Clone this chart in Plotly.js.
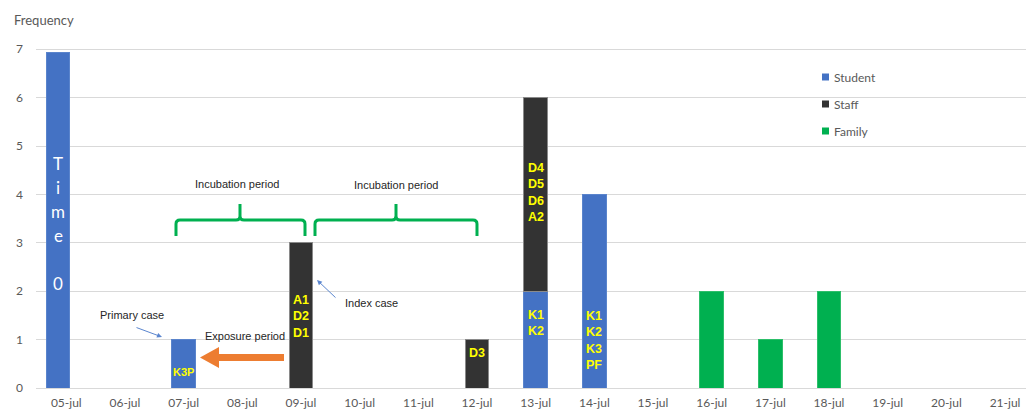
<!DOCTYPE html>
<html>
<head>
<meta charset="utf-8">
<script src="https://cdn.plot.ly/plotly-3.0.1.min.js"></script>
<style>html,body{margin:0;padding:0;background:#fff}#chart{width:1026px;height:411px}</style>
</head>
<body>
<div id="chart"></div>
<script>
// ---- data ----
const dates = ['05-jul','06-jul','07-jul','08-jul','09-jul','10-jul','11-jul','12-jul','13-jul','14-jul','15-jul','16-jul','17-jul','18-jul','19-jul','20-jul','21-jul'];
const student = [6.94,null,1,null,null,null,null,null,2,4,null,null,null,null,null,null,null];
const staff   = [null,null,null,null,3,null,null,1,4,null,null,null,null,null,null,null,null];
const family  = [null,null,null,null,null,null,null,null,null,null,null,2,1,2,null,null,null];
const seriesNames = ['Student','Staff','Family'];
const seriesColors = ['#4472C4','#333333','#00B050'];
const yTicks = [0,1,2,3,4,5,6,7];

// case labels: [category, y centre, text, font size]
const caseLabels = [
  ['07-jul', 0.33, 'K3P', 11],
  ['09-jul', 1.47, 'A1<br>D2<br>D1', 12.5],
  ['12-jul', 0.72, 'D3', 12.5],
  ['13-jul', 4.05, 'D4<br>D5<br>D6<br>A2', 12.5],
  ['13-jul', 1.34, 'K1<br>K2', 12.5],
  ['14-jul', 0.99, 'K1<br>K2<br>K3<br>PF', 12.5]
];
const timeLetters = ['T','i','m','e','','0'];

// ---- layout helpers (pixel -> paper) ----
const L = 36, W = 990, B = 388, H = 343;
const PX = p => (p - L) / W;
const PY = p => (B - p) / H;
const UNIT = 58.67; // pixels per category

const BW = 0.4;
const mkBar = (y, i, line, offset) => {
  const t = {
    type: 'bar', x: dates, y: y, name: seriesNames[i], showlegend: false,
    width: BW,
    marker: {color: seriesColors[i], line: {color: line, width: 1}}
  };
  if (offset) t.offset = offset;
  return t;
};
// the first (Time 0) bar sits a little left of its slot in the original picture
const studentOffset = dates.map((d, k) => k === 0 ? -BW / 2 - 8.3 / UNIT : -BW / 2);

const traces = [
  mkBar(student, 0, '#5a84cc', studentOffset),
  mkBar(staff, 1, '#8a8a8a'),
  mkBar(family, 2, '#2dbf6a')
];

const annotations = [];
const shapes = [];
annotations.push({xref:'paper', yref:'paper', x: PX(12), y: PY(20), xanchor:'left', yanchor:'middle',
  text:'Frequency', showarrow:false, font:{family:'Lato, "Open Sans", sans-serif', size:13, color:'#595959'}});

// manual legend
seriesNames.forEach((n, i) => {
  const cy = 77 + 27 * i;
  shapes.push({type:'rect', xref:'paper', yref:'paper', x0: PX(822), x1: PX(829), y0: PY(cy + 3.5), y1: PY(cy - 3.5),
    fillcolor: seriesColors[i], line:{width:0}});
  annotations.push({xref:'paper', yref:'paper', x: PX(832), y: PY(cy), xanchor:'left', yanchor:'middle',
    text: n, showarrow:false, font:{family:'Lato, "Open Sans", sans-serif', size:12, color:'#595959'}});
});

caseLabels.forEach(c => annotations.push({
  x: c[0], y: c[1], xref:'x', yref:'y', text: '<b>' + c[2] + '</b>', showarrow:false,
  xanchor:'center', yanchor:'middle',
  font:{family:'"Liberation Sans", Arial, sans-serif', size:c[3], color:'#FFFF00'}
}));

timeLetters.forEach((t, i) => { if (t) annotations.push({
  xref:'paper', yref:'paper', x: PX(58), y: PY(163 + 24*i), text: t, showarrow:false,
  xanchor:'center', yanchor:'middle',
  font:{family:'Lato, "Open Sans", sans-serif', size:17, color:'#FFFFFF'}
}); });

const note = (text, px, py) => ({xref:'paper', yref:'paper', x: PX(px), y: PY(py), text: text,
  showarrow:false, xanchor:'center', yanchor:'middle',
  font:{family:'"Liberation Sans", Arial, sans-serif', size:11, color:'#262626'}});
annotations.push(note('Incubation period', 237, 184));
annotations.push(note('Incubation period', 396, 185));
annotations.push(note('Primary case', 132, 315));
annotations.push(note('Exposure period', 245, 336));
annotations.push(note('Index case', 371, 303));

const thinArrow = (hx, hy, ax, ay) => ({xref:'paper', yref:'paper', x: PX(hx), y: PY(hy), ax: ax, ay: ay,
  text:'', showarrow:true, arrowhead:2, arrowsize:1, arrowwidth:1, arrowcolor:'#5b86cf'});
annotations.push(thinArrow(162, 337, -27, -10));
annotations.push(thinArrow(317, 280, 20, 19));

// braces
const P = (x, y) => PX(x).toFixed(5) + ',' + PY(y).toFixed(5);
const brace = (x0, x1, xm, yh, yend, ytip) => {
  const r = 4;
  return 'M' + P(x0, yend) + ' L' + P(x0, yh + r) + ' Q' + P(x0, yh) + ' ' + P(x0 + r, yh) +
    ' L' + P(xm - r, yh) + ' Q' + P(xm, yh) + ' ' + P(xm, yh - r) + ' L' + P(xm, ytip) +
    ' M' + P(xm, yh - r) + ' Q' + P(xm, yh) + ' ' + P(xm + r, yh) +
    ' L' + P(x1 - r, yh) + ' Q' + P(x1, yh) + ' ' + P(x1, yh + r) + ' L' + P(x1, yend);
};
shapes.push({type:'path', xref:'paper', yref:'paper', path: brace(176, 305, 240, 220, 236, 204), line:{color:'#00B050', width:3}});
shapes.push({type:'path', xref:'paper', yref:'paper', path: brace(315, 477, 396, 220, 236, 204), line:{color:'#00B050', width:3}});
shapes.push({type:'path', xref:'paper', yref:'paper', fillcolor:'#ED7D31', line:{width:0},
  path: 'M' + P(200, 357.5) + ' L' + P(219, 347) + ' L' + P(219, 354) + ' L' + P(284, 354) +
    ' L' + P(284, 361) + ' L' + P(219, 361) + ' L' + P(219, 368) + ' Z'});

const x0 = -(66.3 - L) / UNIT;
const layout = {
  width: 1026, height: 411,
  margin: {l: L, r: 0, t: 45, b: 23},
  paper_bgcolor: '#ffffff', plot_bgcolor: '#ffffff',
  barmode: 'stack',
  showlegend: false,
  xaxis: {type:'category', range:[x0, x0 + W / UNIT], showgrid:false, zeroline:false, showline:false,
    ticks:'', ticklabelstandoff: 6,
    tickfont:{family:'"Liberation Sans Narrow", Lato, sans-serif', size:12, color:'#595959'}},
  yaxis: {range:[0, 7.088], tickvals: yTicks, showgrid:true, gridcolor:'#d9d9d9', gridwidth:1,
    zeroline:true, zerolinecolor:'#d9d9d9', zerolinewidth:1, showline:false, ticks:'', ticklabelstandoff: 12,
    tickfont:{family:'Lato, "Open Sans", sans-serif', size:12, color:'#595959'}},
  annotations: annotations,
  shapes: shapes
};

Plotly.newPlot('chart', traces, layout, {displayModeBar:false, staticPlot:true});
</script>
</body>
</html>
